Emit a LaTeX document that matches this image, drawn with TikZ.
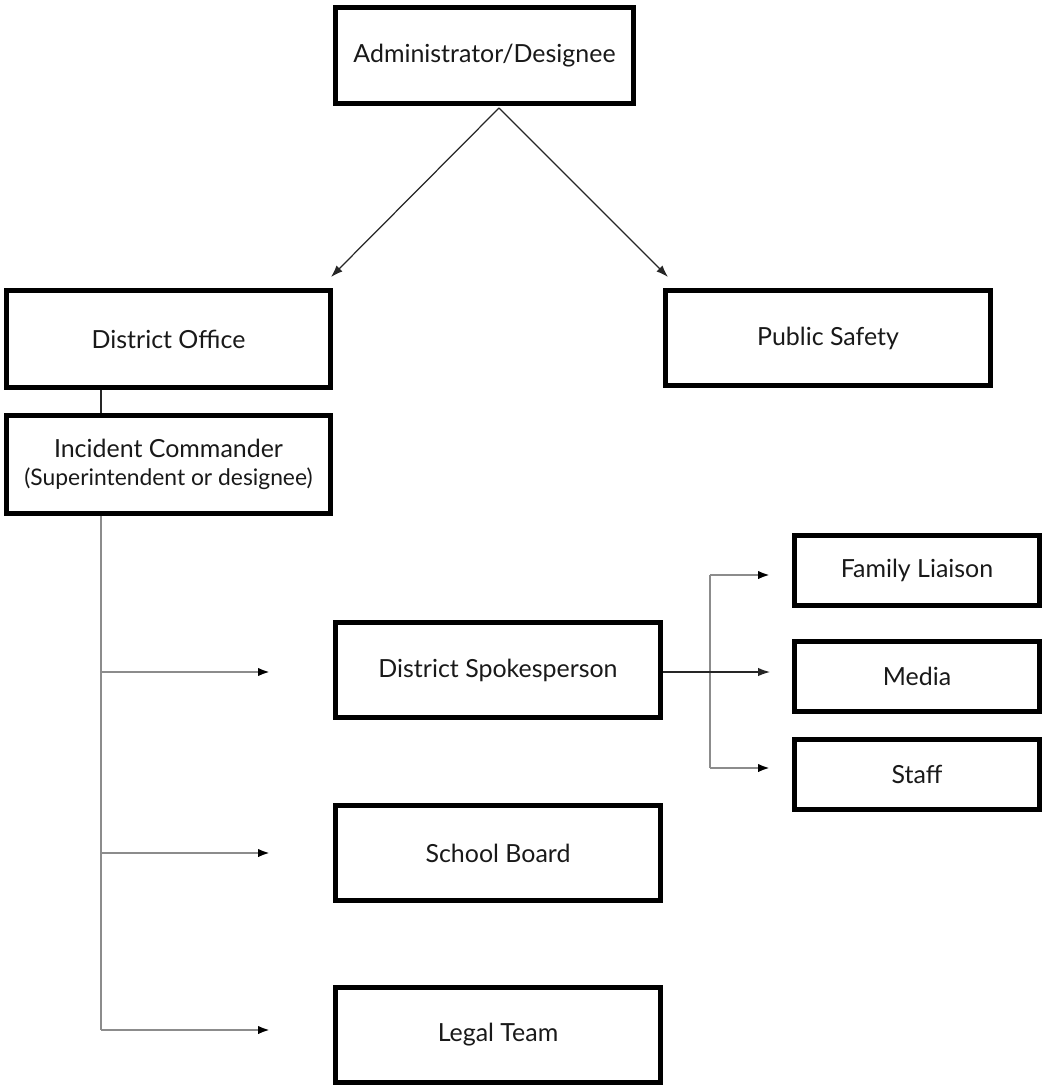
\documentclass[tikz,border=0pt]{standalone}
\usepackage{fontspec}
\setmainfont{Lato}
\usetikzlibrary{arrows.meta}
\tikzset{
    caja/.style={draw=black, line width=0.1cm, fill=white, align=center,
        text=black!90, font=\fontsize{14.2}{15.5}\selectfont,
        minimum width=6.5cm, minimum height=1.9cm, inner sep=0pt},
    cajita/.style={caja, minimum width=4.9cm, minimum height=1.4cm},
    flecha/.style={line width=0.7pt, black!85, -{Latex[length=0.24cm,width=0.17cm]}},
    rama/.style={line width=1.3pt, black!45, -{Latex[length=0.24cm,width=0.17cm,black]}},
    linea/.style={line width=0.7pt, black!85}
}
\begin{document}
\begin{tikzpicture}[x=0.02cm, y=-0.02cm]
    \useasboundingbox (0,0) rectangle (1045,1088);

    % Cajas
    \node[caja, minimum width=5.98cm, minimum height=1.94cm] (admin) at (484.5,55.5) {Administrator/Designee};
    \node[caja, minimum width=6.48cm, minimum height=1.94cm] (dso) at (168.5,339) {District Office};
    \node[caja] (ps) at (828,338) {Public Safety};
    \node[caja, minimum width=6.48cm, minimum height=1.96cm] (inc) at (168.5,464.5) {Incident Commander\\{\fontsize{13}{15}\selectfont(Superintendent or designee)}};
    \node[caja] (spk) at (498,670) {District Spokesperson};
    \node[caja] (sb) at (498,853) {School Board};
    \node[caja] (legal) at (498,1035) {Legal Team};
    \node[cajita] (fam) at (917,570.5) {Family Liaison};
    \node[cajita] (media) at (917,676) {Media};
    \node[cajita] (staff) at (917,774) {Staff};

    % Puntos auxiliares
    \coordinate (apex) at (499,108);
    \coordinate (dsoTip) at (331,277);
    \coordinate (psTip) at (668,277);
    \coordinate (tk) at (101,0);
    \coordinate (spkTip) at (270,672);
    \coordinate (sbTip) at (270,853);
    \coordinate (legalTip) at (270,1030);
    \coordinate (tk2) at (710,0);
    \coordinate (famTip) at (770,575);
    \coordinate (mediaTip) at (770,672);
    \coordinate (staffTip) at (770,768);

    % Flechas superiores
    \draw[flecha] (apex) -- (dsoTip);
    \draw[flecha] (apex) -- (psTip);
    \draw[linea] (dso.south -| tk) -- (inc.north -| tk);

    % Tronco del Incident Commander
    \draw[line width=1.3pt, black!45] (inc.south -| tk) -- (legalTip -| tk);
    \draw[rama] (spkTip -| tk) -- (spkTip);
    \draw[rama] (sbTip -| tk) -- (sbTip);
    \draw[rama] (legalTip -| tk) -- (legalTip);

    % Ramas del Spokesperson
    \draw[line width=1.3pt, black!45] (famTip -| tk2) -- (staffTip -| tk2);
    \draw[rama] (famTip -| tk2) -- (famTip);
    \draw[rama] (staffTip -| tk2) -- (staffTip);
    \draw[flecha] (spk.east |- mediaTip) -- (mediaTip);
\end{tikzpicture}
\end{document}
